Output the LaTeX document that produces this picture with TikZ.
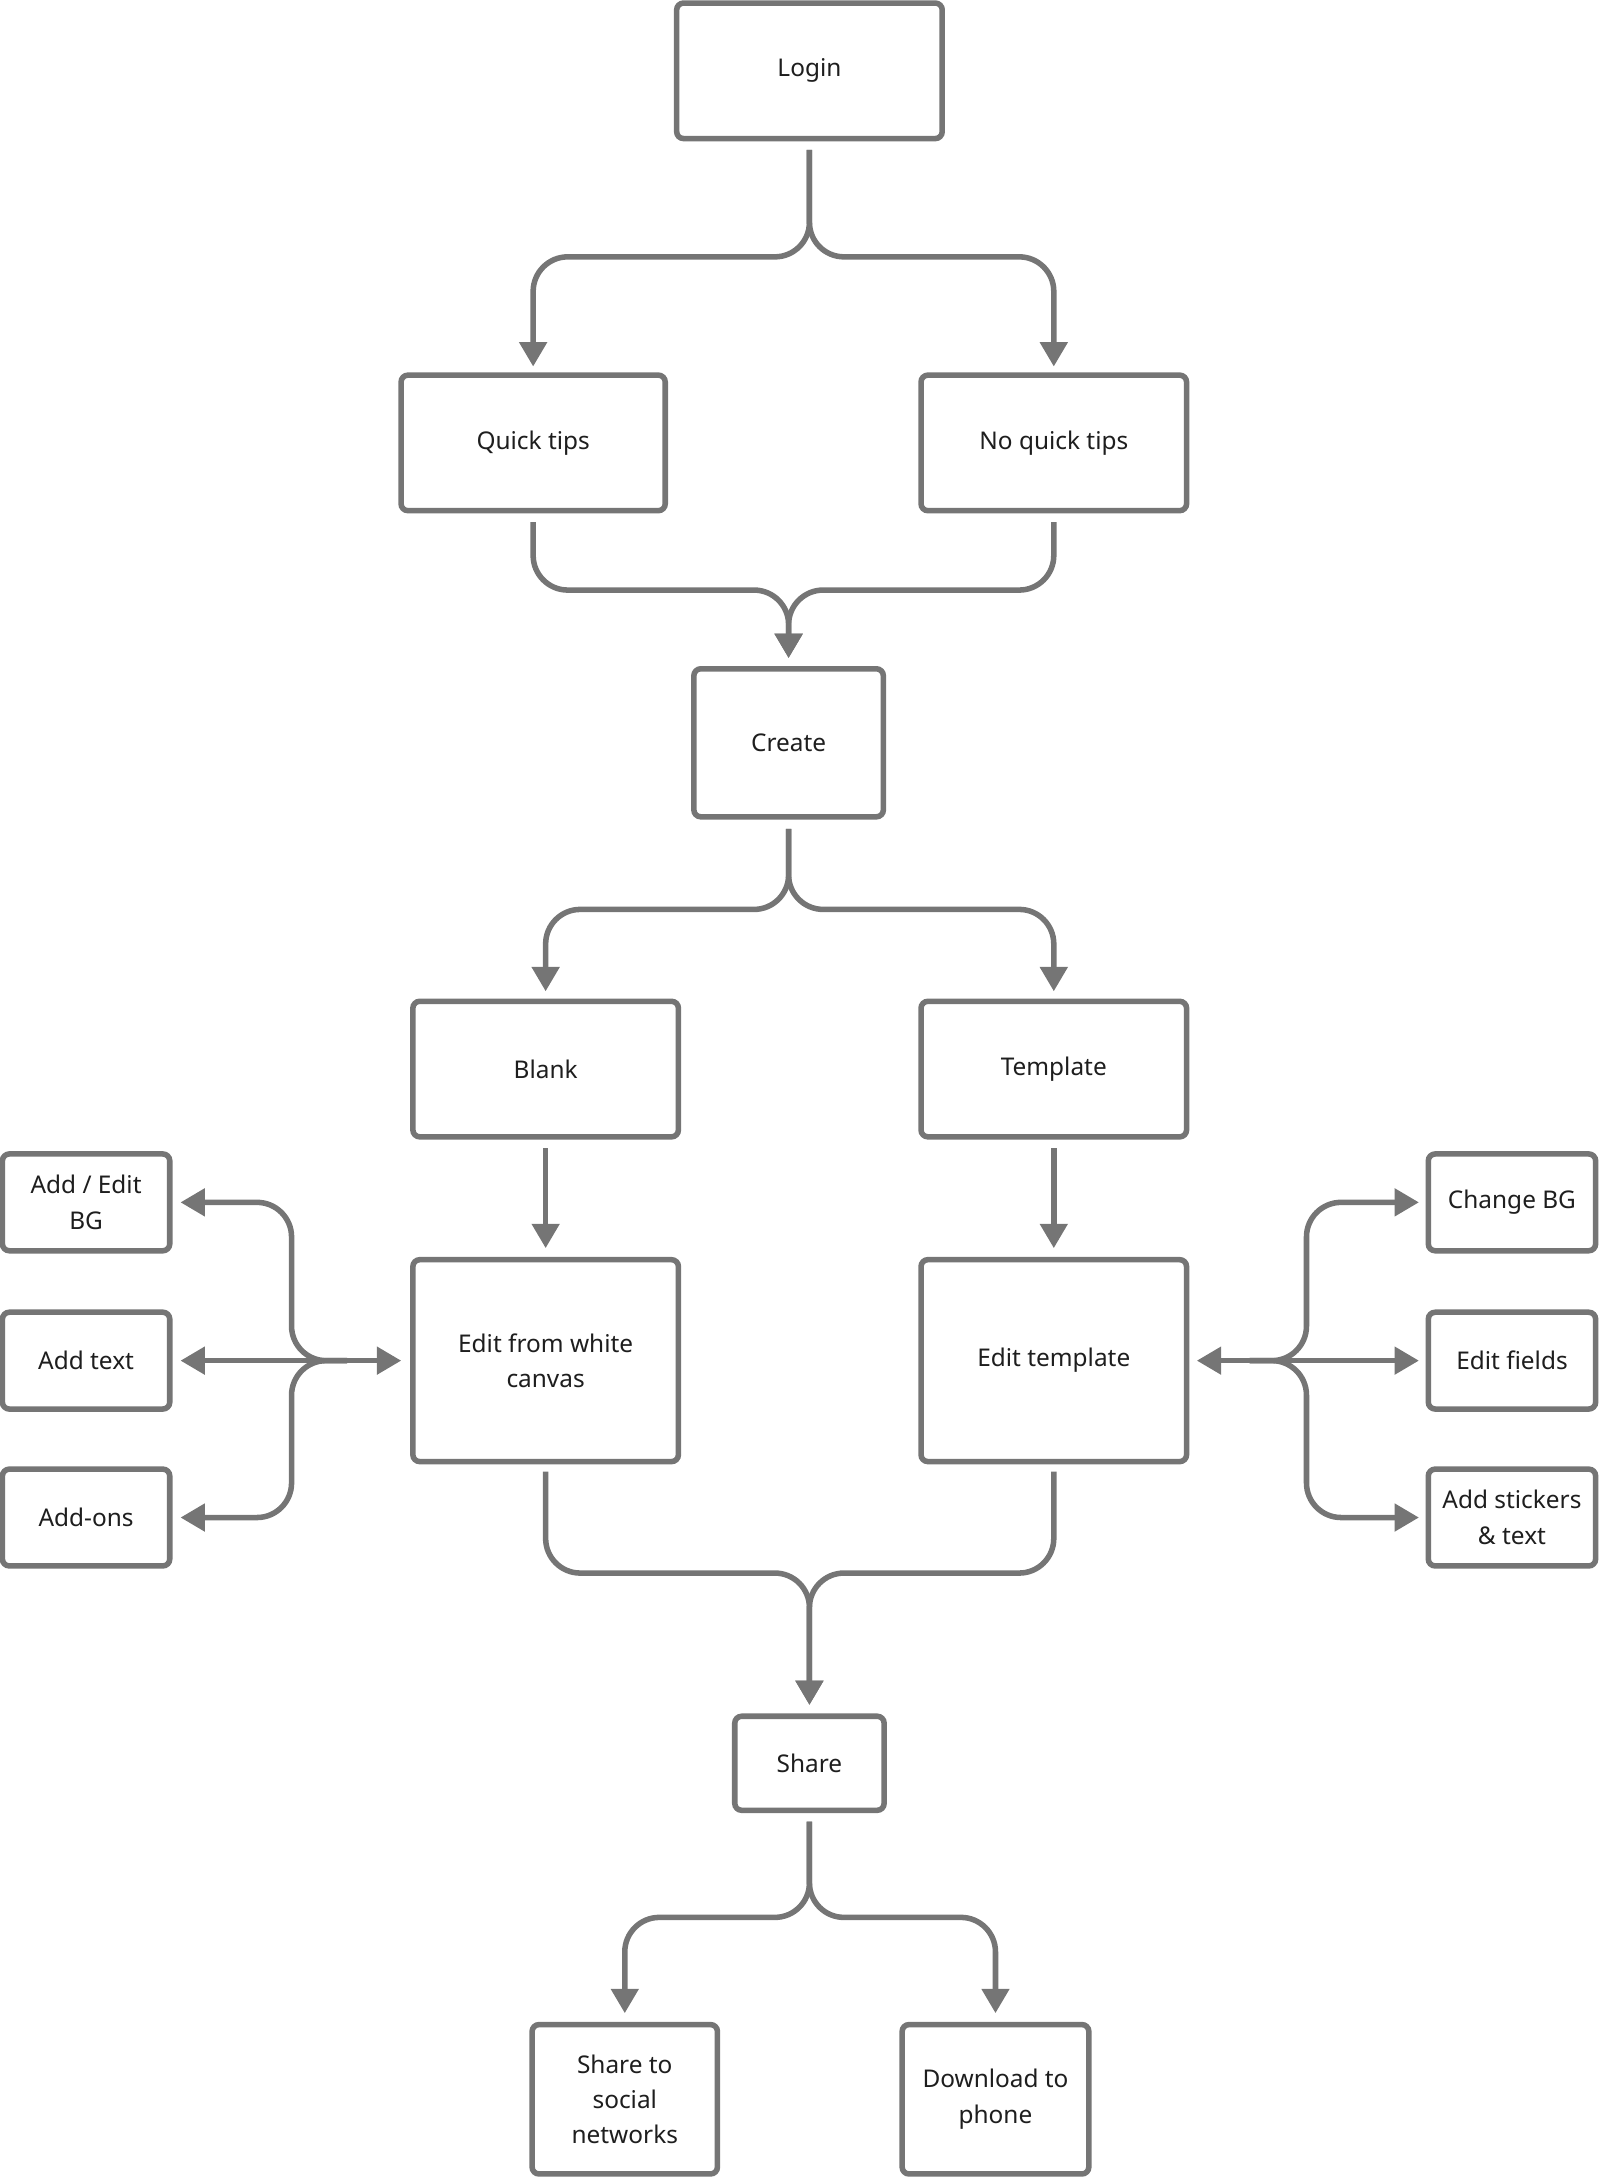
\documentclass[tikz,border=0pt]{standalone}
\usepackage{fontspec}
\setmainfont{Noto Sans}
\usetikzlibrary{arrows.meta}
\def\u{0.567pt}
\definecolor{ln}{RGB}{117,117,117}
\definecolor{tx}{RGB}{30,30,30}
\begin{document}
\begin{tikzpicture}[x=0.02cm,y=-0.02cm,
  box/.style={draw=ln,line width=4*\u,rounded corners=5*\u,fill=white,align=center,text=tx,font=\fontsize{10}{14.5}\selectfont,inner sep=0pt},
  con/.style={draw=ln,line width=4*\u,rounded corners=25*\u,-{Triangle[length=10pt,width=11pt]}},
  dcon/.style={draw=ln,line width=4*\u,{Triangle[length=10pt,width=11pt]}-{Triangle[length=10pt,width=11pt]}}]
\useasboundingbox (0,0) rectangle (1153,1568);
\node[box,minimum width=192*\u,minimum height=98*\u] (login) at (583,51) {Login};
\node[box,minimum width=191*\u,minimum height=98*\u] (qt) at (384,319) {Quick tips};
\node[box,minimum width=192*\u,minimum height=98*\u] (nqt) at (759,319) {No quick tips};
\node[box,minimum width=137*\u,minimum height=107*\u] (create) at (568,535) {Create};
\node[box,minimum width=192*\u,minimum height=98*\u] (blank) at (393,770) {Blank};
\node[box,minimum width=192*\u,minimum height=98*\u] (tmpl) at (759,770) {Template};
\node[box,minimum width=192*\u,minimum height=146*\u] (ewc) at (393,980) {Edit from white\\canvas};
\node[box,minimum width=192*\u,minimum height=146*\u] (et) at (759,980) {Edit template};
\node[box,minimum width=121*\u,minimum height=70*\u] (aeb) at (62,866) {Add / Edit\\BG};
\node[box,minimum width=121*\u,minimum height=70*\u] (at) at (62,980) {Add text};
\node[box,minimum width=121*\u,minimum height=70*\u] (ao) at (62,1093) {Add-ons};
\node[box,minimum width=121*\u,minimum height=70*\u] (cbg) at (1089,866) {Change BG};
\node[box,minimum width=121*\u,minimum height=70*\u] (ef) at (1089,980) {Edit fields};
\node[box,minimum width=121*\u,minimum height=70*\u] (ast) at (1089,1093) {Add stickers\\\& text};
\node[box,minimum width=108*\u,minimum height=68*\u] (share) at (583,1270) {Share};
\node[box,minimum width=134*\u,minimum height=108*\u] (sts) at (450,1512) {Share to\\social\\networks};
\node[box,minimum width=135*\u,minimum height=108*\u] (dl) at (717,1512) {Download to\\phone};
% login split
\draw[con] (583,108) -- (583,185) -- (384,185) -- (384,264);
\draw[con] (583,108) -- (583,185) -- (759,185) -- (759,264);
% merge to create
\draw[con] (384,376) -- (384,425) -- (568,425) -- (568,474);
\draw[con] (759,376) -- (759,425) -- (568,425) -- (568,474);
% create split
\draw[con] (568,597) -- (568,655) -- (393,655) -- (393,714);
\draw[con] (568,597) -- (568,655) -- (759,655) -- (759,714);
\draw[con] (393,827) -- (393,899);
\draw[con] (759,827) -- (759,899);
% left side
\draw[dcon] (130,980) -- (289,980);
\draw[con] (250,980) -- (210,980) -- (210,866) -- (130,866);
\draw[con] (250,980) -- (210,980) -- (210,1093) -- (130,1093);
% right side
\draw[dcon] (862,980) -- (1022,980);
\draw[con] (900,980) -- (941,980) -- (941,866) -- (1022,866);
\draw[con] (900,980) -- (941,980) -- (941,1093) -- (1022,1093);
% merge to share
\draw[con] (393,1060) -- (393,1133) -- (583,1133) -- (583,1228);
\draw[con] (759,1060) -- (759,1133) -- (583,1133) -- (583,1228);
% share split
\draw[con] (583,1312) -- (583,1381) -- (450,1381) -- (450,1450);
\draw[con] (583,1312) -- (583,1381) -- (717,1381) -- (717,1450);
\end{tikzpicture}
\end{document}
